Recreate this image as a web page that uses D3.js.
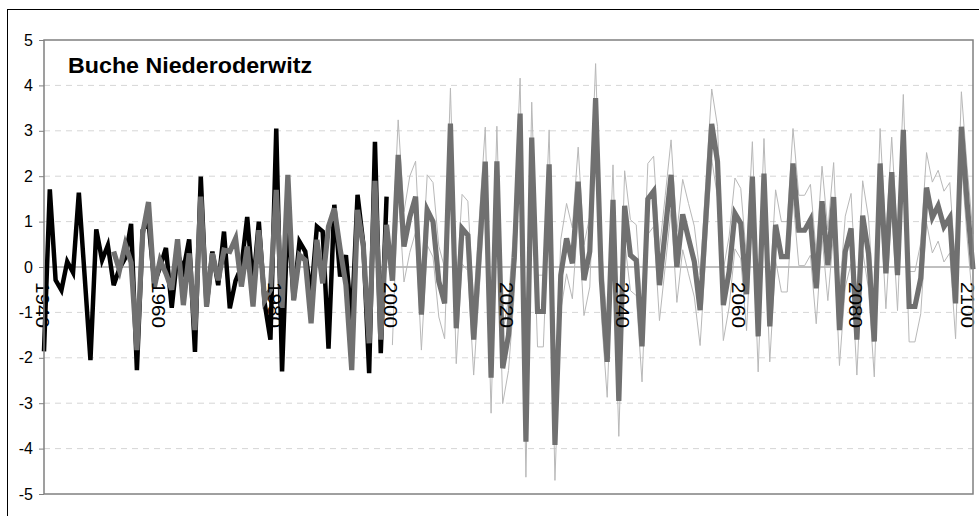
<!DOCTYPE html>
<html>
<head>
<meta charset="utf-8">
<script src="https://cdn.jsdelivr.net/npm/d3@7"></script>
<style>
  html, body { margin: 0; padding: 0; background: #fff; }
  #chart { width: 979px; height: 516px; }
  .axis-text { font-family: 'Liberation Sans', Arial, sans-serif; fill: #000; }
</style>
</head>
<body>
<div id="chart"></div>
<script>
const title = 'Buche Niederoderwitz';

const yTicks = [-5, -4, -3, -2, -1, 0, 1, 2, 3, 4, 5];
const xTicks = [1940, 1960, 1980, 2000, 2020, 2040, 2060, 2080, 2100];

// observed index, 1940-1999
const observedStart = 1940;
const observed = [
  -1.86, 1.71, -0.29, -0.51, 0.12, -0.12, 1.64, -0.2, -2.05, 0.83,
  0.15, 0.48, -0.4, -0.03, 0.2, 0.95, -2.27, 0.81, 1.0, -0.36,
  0.0, 0.42, -0.9, 0.3, -0.07, 0.61, -1.87, 1.99, -0.87, 0.34,
  -0.4, 0.78, -0.91, -0.3, 0.0, 1.1, -0.45, 1.0, -0.8, -1.6,
  3.05, -2.3, 1.2, -0.73, 0.56, 0.34, -0.65, 0.89, 0.78, -1.8,
  1.37, -0.21, 0.26, -1.24, 1.59, 0.5, -2.34, 2.76, -1.9, 1.55,
];

// modelled index, 1952-2100
const modelStart = 1952;
const model = [
  0.34, -0.07, 0.5, 0.1, -1.83, 0.74, 1.43, -0.45,
  0.15, -0.14, -0.5, 0.61, -0.84, 0.3, -1.39, 1.55, -0.87, 0.3,
  -0.29, 0.37, 0.34, 0.63, -0.43, 0.45, -0.87, 0.81, -0.73, -0.5,
  1.7, -0.9, 2.03, -0.73, 0.26, 0.15, -1.24, 0.6, -0.36, 0.89,
  1.29, 0.4, -0.4, -2.27, 1.26, 0.45, -1.68, 1.9, -1.6, 0.93,
  -0.3, 2.47, 0.45, 1.1, 1.55, -1.05, 1.26, 1.0, -0.32, -0.8,
  3.16, -1.35, 0.85, 0.7, -1.6, 0.35, 2.32, -2.44, 2.33, -2.23,
  -1.5, 0.2, 3.38, -3.85, 2.85, -0.98, -0.98, 2.26, -3.92, -0.18,
  0.63, 0.08, 1.88, -0.29, 0.34, 3.72, -0.3, -2.09, 1.48, -2.95,
  1.35, 0.26, 0.15, -1.75, 1.5, 1.67, -0.4, 0.8, 2.03, 0.0,
  1.16, 0.63, 0.12, -0.95, 1.1, 3.15, 2.32, -0.84, -0.1, 1.18,
  0.96, -0.6, 1.99, -1.53, 2.06, -1.31, 0.93, 0.23, 0.23, 2.28,
  0.81, 0.81, 1.04, -0.47, 1.45, 0.04, 1.54, -1.39, 0.34, 0.85,
  -1.6, 1.13, 0.3, -1.64, 2.28, -0.14, 2.09, -0.18, 3.02, -0.87,
  -0.87, -0.25, 1.75, 1.09, 1.35, 0.89, 1.09, -0.8, 3.09, 1.4,
  -0.05,
];

// scenario band, 2000-2100
const bandStart = 2000;
const bandUpper = [
  0.45, 3.24, 1.22, 2.0, 2.33, -0.27, 2.03, 1.86, 0.46, -0.02,
  3.94, -0.57, 1.6, 1.45, -0.82, 1.13, 3.08, -1.66, 3.1, -1.45,
  -0.72, 0.98, 4.16, -3.07, 3.63, -0.18, -0.18, 3.02, -3.14, 0.6,
  1.4, 0.86, 2.64, 0.49, 1.12, 4.48, 0.48, -1.31, 2.25, -2.17,
  2.12, 1.04, 0.93, -0.97, 2.28, 2.44, 0.38, 1.58, 2.8, 0.78,
  1.93, 1.4, 0.9, -0.17, 1.88, 3.92, 3.1, -0.06, 0.68, 1.96,
  1.73, 0.2, 2.76, -0.75, 2.83, -0.53, 1.7, 1.0, 1.0, 3.05,
  1.58, 1.58, 1.82, 0.31, 2.22, 0.82, 2.3, -0.61, 1.12, 1.62,
  -0.82, 1.9, 1.08, -0.86, 3.05, 0.64, 2.86, 0.6, 3.8, -0.1,
  -0.1, 0.53, 2.52, 1.87, 2.13, 1.67, 1.86, -0.02, 3.86, 2.18,
  0.73,
];
const bandLower = [
  -1.72, 1.7, -0.33, 0.32, 0.77, -1.83, 0.48, 0.22, -1.1, -1.58,
  2.38, -2.13, 0.07, -0.08, -2.38, -0.43, 1.54, -3.22, 1.55, -3.01,
  -2.28, -0.58, 2.6, -4.63, 2.07, -1.76, -1.76, 1.48, -4.7, -0.96,
  -0.15, -0.7, 1.1, -1.07, -0.44, 2.94, -1.08, -2.87, 0.7, -3.73,
  0.57, -0.52, -0.63, -2.53, 0.72, 0.89, -1.18, 0.02, 1.25, -0.78,
  0.38, -0.15, -0.66, -1.73, 0.32, 2.37, 1.54, -1.62, -0.88, 0.4,
  0.18, -1.4, 1.21, -2.31, 1.28, -2.09, 0.15, -0.55, -0.55, 1.5,
  0.03, 0.03, 0.26, -1.25, 0.67, -0.74, 0.76, -2.17, -0.44, 0.07,
  -2.38, 0.35, -0.48, -2.42, 1.5, -0.92, 1.31, -0.96, 2.24, -1.65,
  -1.65, -1.03, 0.97, 0.31, 0.57, 0.11, 0.31, -1.58, 2.31, 0.62,
  -0.83,
];

const dimensions = { width: 979, height: 516 };
const plot = { left: 44, top: 40, right: 973, bottom: 494 };
const font = "'Liberation Sans', Arial, sans-serif";

const xScale = d3.scaleLinear().domain([1940, 2100]).range([plot.left, plot.right]);
const yScale = d3.scaleLinear().domain([-5, 5]).range([plot.bottom, plot.top]);

const svg = d3
  .select('#chart')
  .append('svg')
  .attr('width', dimensions.width)
  .attr('height', dimensions.height);

const toPoints = (start, values) => values.map((v, i) => ({ year: start + i, value: v }));

function drawFrame() {
  // outer chart border, runs off the right and bottom edge
  svg.append('rect')
    .attr('x', 7.5).attr('y', 9.5)
    .attr('width', 1000).attr('height', 1000)
    .attr('fill', '#fff')
    .attr('stroke', '#000')
    .attr('stroke-width', 1);
}

function drawGrid() {
  svg.append('g')
    .selectAll('line')
    .data(yTicks.filter(t => t !== 0 && Math.abs(t) !== 5))
    .join('line')
    .attr('x1', plot.left).attr('x2', plot.right)
    .attr('y1', d => yScale(d)).attr('y2', d => yScale(d))
    .attr('stroke', '#d6d6d6')
    .attr('stroke-width', 1)
    .attr('stroke-dasharray', '6,5');

  svg.append('line')
    .attr('x1', plot.left).attr('x2', plot.right)
    .attr('y1', yScale(0)).attr('y2', yScale(0))
    .attr('stroke', '#808080')
    .attr('stroke-width', 1);
}

function drawYAxis() {
  const axis = d3.axisLeft(yScale)
    .tickValues(yTicks)
    .tickSize(5)
    .tickPadding(6)
    .tickFormat(d => String(d));

  const g = svg.append('g')
    .attr('transform', `translate(${plot.left},0)`)
    .call(axis);

  g.select('.domain').remove();
  g.selectAll('line').attr('stroke', '#808080');
  g.selectAll('text')
    .attr('class', 'axis-text')
    .style('font-family', font)
    .style('font-size', '16px')
    .attr('fill', '#000');
}

function drawXLabels() {
  // rotated year labels hang below the zero line, drawn over the series
  svg.append('g')
    .selectAll('text')
    .data(xTicks)
    .join('text')
    .attr('class', 'axis-text')
    .attr('transform', d => {
      const x = Math.min(xScale(d) - 2, plot.right - 6);
      return `translate(${x},${yScale(0) + 15}) rotate(90)`;
    })
    .attr('dy', '0.35em')
    .attr('textLength', 46)
    .attr('lengthAdjust', 'spacingAndGlyphs')
    .style('font-family', font)
    .style('font-size', '18px')
    .text(d => d);
}

function drawLines() {
  const line = d3.line()
    .x(d => xScale(d.year))
    .y(d => yScale(d.value));

  const series = [
    { points: toPoints(bandStart, bandUpper), color: '#b8b8b8', width: 1 },
    { points: toPoints(bandStart, bandLower), color: '#b8b8b8', width: 1 },
    { points: toPoints(observedStart, observed), color: '#000000', width: 4.5 },
    { points: toPoints(modelStart, model), color: '#707070', width: 5.2 },
  ];

  svg.append('g')
    .selectAll('path')
    .data(series)
    .join('path')
    .attr('d', d => line(d.points))
    .attr('fill', 'none')
    .attr('stroke', d => d.color)
    .attr('stroke-width', d => d.width);
}

function drawPlotBorder() {
  svg.append('rect')
    .attr('x', plot.left).attr('y', plot.top)
    .attr('width', plot.right - plot.left)
    .attr('height', plot.bottom - plot.top)
    .attr('fill', 'none')
    .attr('stroke', '#808080')
    .attr('stroke-width', 1.5);
}

function drawTitle() {
  svg.append('text')
    .attr('x', 68).attr('y', 73)
    .attr('textLength', 244)
    .attr('lengthAdjust', 'spacingAndGlyphs')
    .style('font-family', font)
    .style('font-size', '22px')
    .style('font-weight', 'bold')
    .text(title);
}

drawFrame();
drawGrid();
drawYAxis();
drawLines();
drawXLabels();
drawPlotBorder();
drawTitle();
</script>
</body>
</html>
